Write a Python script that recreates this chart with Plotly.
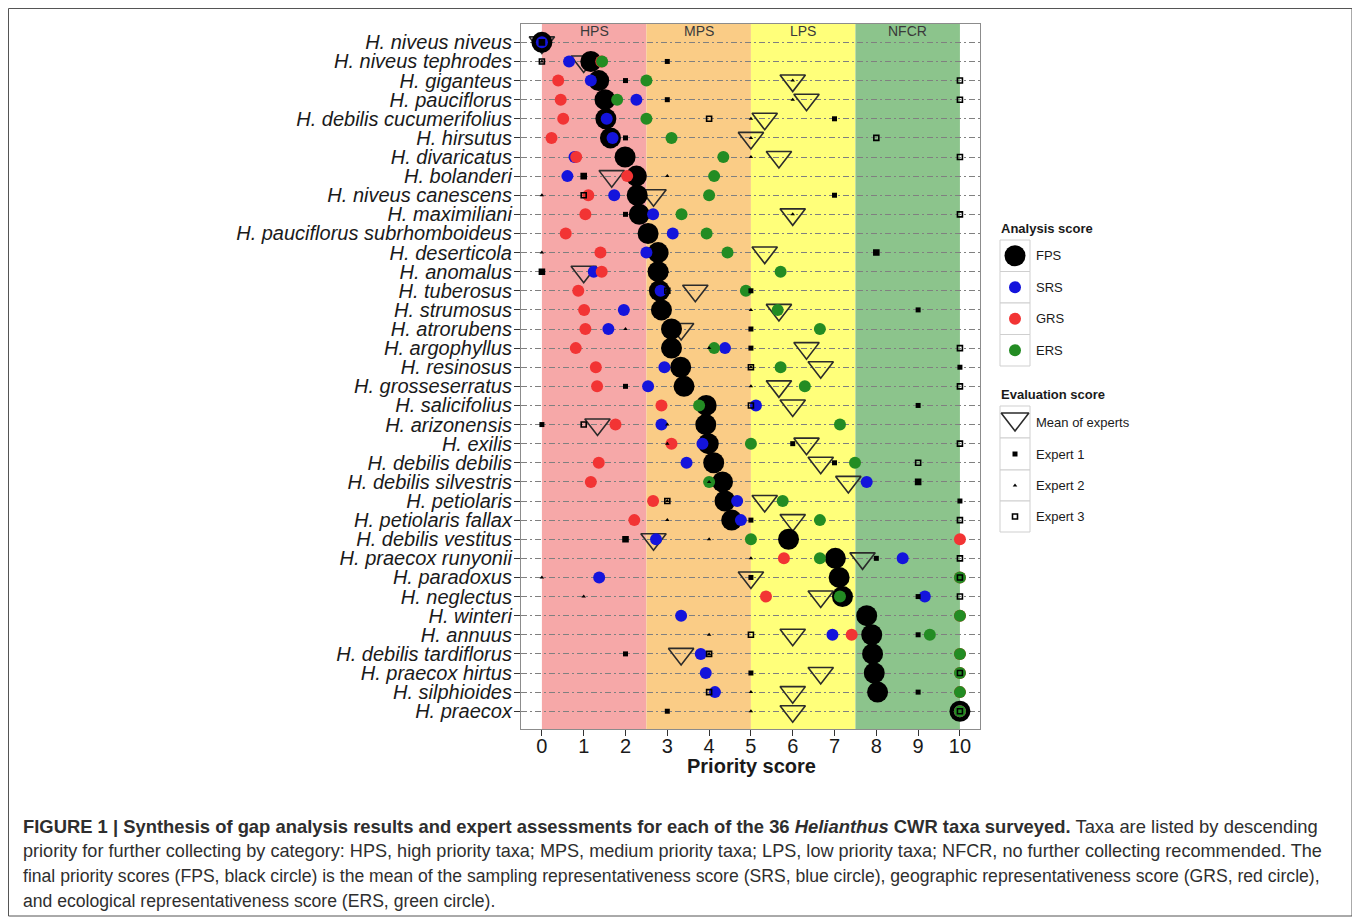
import plotly.graph_objects as go

# ---------------- data ----------------
taxa = ["H. niveus niveus", "H. niveus tephrodes", "H. giganteus", "H. pauciflorus",
        "H. debilis cucumerifolius", "H. hirsutus", "H. divaricatus", "H. bolanderi",
        "H. niveus canescens", "H. maximiliani", "H. pauciflorus subrhomboideus",
        "H. deserticola", "H. anomalus", "H. tuberosus", "H. strumosus", "H. atrorubens",
        "H. argophyllus", "H. resinosus", "H. grosseserratus", "H. salicifolius",
        "H. arizonensis", "H. exilis", "H. debilis debilis", "H. debilis silvestris",
        "H. petiolaris", "H. petiolaris fallax", "H. debilis vestitus", "H. praecox runyonii",
        "H. paradoxus", "H. neglectus", "H. winteri", "H. annuus", "H. debilis tardiflorus",
        "H. praecox hirtus", "H. silphioides", "H. praecox"]

fps = [0, 1.17, 1.36, 1.51, 1.53, 1.64, 1.99, 2.26, 2.28, 2.33, 2.54, 2.78, 2.78, 2.81,
       2.86, 3.10, 3.10, 3.32, 3.40, 3.93, 3.92, 3.98, 4.11, 4.32, 4.38, 4.54, 5.90, 7.02,
       7.11, 7.19, 7.77, 7.89, 7.91, 7.95, 8.03, 10]
srs = [0, 0.65, 1.17, 2.26, 1.55, 1.69, 0.78, 0.61, 1.73, 2.66, 3.13, 2.50, 1.24, 2.84,
       1.96, 1.59, 4.38, 2.93, 2.54, 5.12, 2.86, 3.84, 3.46, 7.77, 4.67, 4.76, 2.73, 8.63,
       1.37, 9.16, 3.33, 6.95, 3.80, 3.92, 4.14, 10]
grs = [None, 1.42, 0.39, 0.45, 0.51, 0.23, 0.82, 2.04, 1.11, 1.04, 0.57, 1.40, 1.43, 0.87,
       1.01, 1.04, 0.81, 1.29, 1.32, 2.86, 1.76, 3.10, 1.36, 1.17, 2.66, 2.21, 10.0, 5.79,
       10.0, 5.36, 10.0, 7.41, 10.0, 10.0, 10.0, 10]
ers = [None, 1.44, 2.50, 1.80, 2.50, 3.10, 4.34, 4.12, 4.00, 3.34, 3.94, 4.44, 5.71, 4.88,
       5.64, 6.65, 4.12, 5.71, 6.29, 3.76, 7.13, 5.00, 7.49, 4.00, 5.76, 6.65, 5.00, 6.65,
       10, 7.13, 10, 9.28, 10, 10, 10, 10]
mean_experts = [0, 1.0, 6.0, 6.33, 5.33, 5.0, 5.67, 1.67, 2.67, 6.0, None, 5.33, 1.0, 3.67,
                5.67, 3.33, 6.33, 6.67, 5.67, 6.0, 1.33, 6.33, 6.67, 7.33, 5.33, 6.0, 2.67,
                7.67, 5.0, 6.67, None, 6.0, 3.33, 6.67, 6.0, 6.0]
expert1 = [0, 3, 2, 3, 7, 2, 2, 1, 7, 2, None, 8, 0, 5, 9, 5, 5, 10, 2, 9, 0, 6, 7, 9,
           10, 5, 2, 8, 5, 9, None, 9, 2, 5, 9, 3]
expert2 = [0, 0, 6, 6, 5, 5, 5, 3, 0, 6, None, 0, 3, 3, 5, 2, 4, 5, 5, 4, 3, 3, 4, 4,
           3, 3, 4, 5, 0, 1, None, 4, 4, 5, 5, 5]
expert3 = [0, 0, 10, 10, 4, 8, 10, 1, 1, 10, None, 8, 0, 3, 3, 3, 10, 5, 10, 5, 1, 10, 9, 9,
           3, 10, 2, 10, 10, 10, None, 5, 4, 10, 4, 10]

x_ticks = [0, 1, 2, 3, 4, 5, 6, 7, 8, 9, 10]
bands = [("HPS", 0, 2.5, "rgb(246,168,168)"), ("MPS", 2.5, 5, "rgb(250,204,134)"),
         ("LPS", 5, 7.5, "rgb(255,255,122)"), ("NFCR", 7.5, 10, "rgb(140,196,140)")]

caption_lines = [
    "<b>FIGURE 1 | Synthesis of gap analysis results and expert assessments for each of the 36 "
    "<i>Helianthus</i> CWR taxa surveyed.</b> Taxa are listed by descending",
    "priority for further collecting by category: HPS, high priority taxa; MPS, medium priority "
    "taxa; LPS, low priority taxa; NFCR, no further collecting recommended. The",
    "final priority scores (FPS, black circle) is the mean of the sampling representativeness "
    "score (SRS, blue circle), geographic representativeness score (GRS, red circle),",
    "and ecological representativeness score (ERS, green circle).",
]
caption_sizes = [18.4, 18.1, 17.6, 17.6]

# ---------------- helpers (page has an 8px body margin) ----------------
OFF = 8
W, H = 1360 - OFF, 920 - OFF
def px(x):
    return (x - OFF) / W
def py(y):
    return 1 - (y - OFF) / H

FONT = "Liberation Sans, Arial, Helvetica, sans-serif"
idx = list(range(len(taxa)))

BLUE = "#1414DC"
RED = "#F23434"
GREEN = "#238C23"

fig = go.Figure()

# evaluation mean (drawn beneath)
fig.add_trace(go.Scatter(x=mean_experts, y=idx, mode="markers", name="Mean of experts",
                         marker=dict(symbol="triangle-down-open", size=22, color="#2b2b2b",
                                     line=dict(width=1.6))))
fig.add_trace(go.Scatter(x=fps, y=idx, mode="markers", name="FPS",
                         marker=dict(symbol="circle", size=21, color="black")))
fig.add_trace(go.Scatter(x=srs, y=idx, mode="markers", name="SRS",
                         marker=dict(symbol="circle", size=12, color=BLUE)))
fig.add_trace(go.Scatter(x=grs, y=idx, mode="markers", name="GRS",
                         marker=dict(symbol="circle", size=12, color=RED)))
fig.add_trace(go.Scatter(x=ers, y=idx, mode="markers", name="ERS",
                         marker=dict(symbol="circle", size=12, color=GREEN)))
fig.add_trace(go.Scatter(x=expert1, y=idx, mode="markers", name="Expert 1",
                         marker=dict(symbol="square", size=5, color="black")))
fig.add_trace(go.Scatter(x=expert2, y=idx, mode="markers", name="Expert 2",
                         marker=dict(symbol="triangle-up", size=4, color="black")))
fig.add_trace(go.Scatter(x=expert3, y=idx, mode="markers", name="Expert 3",
                         marker=dict(symbol="square-open", size=5, color="black",
                                     line=dict(width=1.6))))

shapes = []
annotations = []

# category bands
for lab, x0, x1, col in bands:
    shapes.append(dict(type="rect", xref="x", yref="y domain", x0=x0, x1=x1, y0=0, y1=1,
                       fillcolor=col, line=dict(width=0), layer="below"))
    annotations.append(dict(text=lab, xref="x", yref="y domain", x=(x0 + x1) / 2, y=0.990,
                            xanchor="center", yanchor="middle", showarrow=False,
                            font=dict(family=FONT, size=14, color="#3a3a3a")))

# axis title
annotations.append(dict(text="<b>Priority score</b>", xref="paper", yref="paper",
                        x=px(751), y=py(766), xanchor="center", yanchor="middle",
                        showarrow=False, font=dict(family=FONT, size=20, color="#1a1a1a")))

# ---------------- legend (pixel-space helper axis) ----------------
LX0, LX1 = 1000, 1030
LC = (LX0 + LX1) / 2
box_a = [240, 271.5, 303, 334.5, 366]
box_e = [406, 438, 470, 501, 532]
for edges in (box_a, box_e):
    for i in range(len(edges) - 1):
        shapes.append(dict(type="rect", xref="x2", yref="y2", x0=LX0, x1=LX1,
                           y0=edges[i], y1=edges[i + 1], line=dict(color="#cfcfcf", width=1),
                           fillcolor="white", layer="below"))

annotations.append(dict(text="<b>Analysis score</b>", xref="x2", yref="y2", x=LX0 - 1, y=228,
                        xanchor="left", yanchor="middle", showarrow=False,
                        font=dict(family=FONT, size=13, color="#1a1a1a")))
annotations.append(dict(text="<b>Evaluation score</b>", xref="x2", yref="y2", x=LX0 - 1, y=394,
                        xanchor="left", yanchor="middle", showarrow=False,
                        font=dict(family=FONT, size=13, color="#1a1a1a")))

leg_items = [
    ("FPS", box_a, 0, dict(symbol="circle", size=21, color="black")),
    ("SRS", box_a, 1, dict(symbol="circle", size=12, color=BLUE)),
    ("GRS", box_a, 2, dict(symbol="circle", size=12, color=RED)),
    ("ERS", box_a, 3, dict(symbol="circle", size=12, color=GREEN)),
    ("Mean of experts", box_e, 0, dict(symbol="triangle-down-open", size=24, color="#2b2b2b",
                                       line=dict(width=1.6))),
    ("Expert 1", box_e, 1, dict(symbol="square", size=5, color="black")),
    ("Expert 2", box_e, 2, dict(symbol="triangle-up", size=4, color="black")),
    ("Expert 3", box_e, 3, dict(symbol="square-open", size=5, color="black",
                                line=dict(width=1.6))),
]
for lab, edges, i, mk in leg_items:
    cy = (edges[i] + edges[i + 1]) / 2
    my = cy - 3 if "triangle-down" in mk["symbol"] else cy
    fig.add_trace(go.Scatter(x=[LC], y=[my], mode="markers", marker=mk, xaxis="x2",
                             yaxis="y2", hoverinfo="skip"))
    annotations.append(dict(text=lab, xref="x2", yref="y2", x=LX1 + 4, y=cy,
                            xanchor="left", yanchor="middle", showarrow=False,
                            font=dict(family=FONT, size=13, color="#1a1a1a")))

# ---------------- caption ----------------
cap_y = [826, 851, 876, 901]
for line, yy, fs in zip(caption_lines, cap_y, caption_sizes):
    annotations.append(dict(text=line, xref="paper", yref="paper", x=px(21), y=py(yy),
                            xanchor="left", yanchor="middle", showarrow=False, align="left",
                            font=dict(family=FONT, size=fs, color="#2e2e2e")))

# outer frame
shapes.append(dict(type="rect", xref="paper", yref="paper", x0=px(8.5), x1=px(1352),
                   y0=py(916), y1=py(8.5), line=dict(color="#555555", width=1)))

fig.update_layout(
    width=W, height=H, autosize=False,
    margin=dict(l=0, r=0, t=0, b=0),
    paper_bgcolor="white", plot_bgcolor="white",
    showlegend=False,
    shapes=shapes, annotations=annotations,
    xaxis=dict(domain=[px(521), px(980)], range=[-0.5, 10.48], tickmode="array",
               tickvals=x_ticks, ticktext=[str(t) for t in x_ticks], ticks="outside",
               ticklen=6, tickcolor="#333333", showgrid=False, zeroline=False,
               showline=True, mirror=True, linecolor="#8c8c8c", linewidth=1.2,
               ticklabelstandoff=-7,
               tickfont=dict(family=FONT, size=20, color="#1a1a1a"), anchor="y"),
    yaxis=dict(domain=[py(729), py(24)], range=[35.93, -0.96], tickmode="array",
               tickvals=idx, ticktext=taxa, ticks="outside", ticklen=6,
               tickcolor="#333333", showgrid=True, gridcolor="#808080", gridwidth=1,
               griddash="6px,3px,2px,3px", zeroline=False, showline=True, mirror=True,
               linecolor="#8c8c8c", linewidth=1.2, anchor="x", ticklabelstandoff=-2,
               tickfont=dict(family=FONT, size=20, color="#1a1a1a", style="italic")),
    xaxis2=dict(domain=[px(985), px(1165)], range=[985, 1165], visible=False, anchor="y2",
                fixedrange=True),
    yaxis2=dict(domain=[py(545), py(215)], range=[545, 215], visible=False, anchor="x2",
                fixedrange=True),
)

fig.write_html("out.html")
